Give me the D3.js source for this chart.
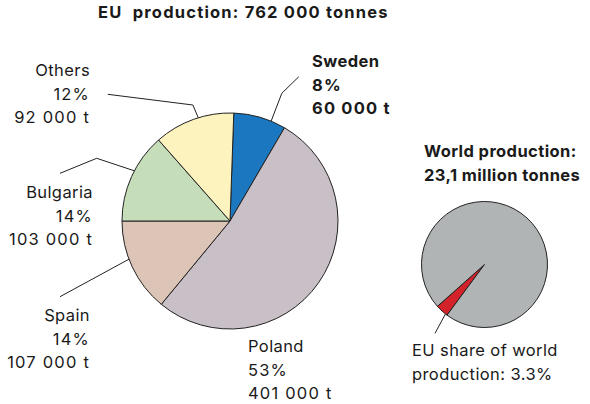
<!DOCTYPE html>
<html>
<head>
<meta charset="utf-8">
<script src="https://cdn.jsdelivr.net/npm/d3@7"></script>
<style>
  html, body { margin: 0; padding: 0; background: #fff; }
  svg text { font-family: Inter, "DejaVu Sans", sans-serif; fill: #1a1a1a; }
  .word { letter-spacing: 0.4px; }
  .num { letter-spacing: 1.2px; }
</style>
</head>
<body>
<svg id="chart" width="590" height="404"></svg>
<script>
// EU production by country (tonnes), clockwise from the top
const countries = ["Sweden", "Poland", "Spain", "Bulgaria", "Others"];
const tonnes = [60000, 401000, 107000, 103000, 92000];
const shareLabels = ["8%", "53%", "14%", "14%", "12%"];
const tonneLabels = ["60 000 t", "401 000 t", "107 000 t", "103 000 t", "92 000 t"];
const sliceColors = ["#1b77bf", "#c8bfc7", "#dcc4b6", "#c6ddb9", "#fdf3bf"];

// World production split (%)
const worldParts = ["EU", "Rest of world"];
const worldShare = [3.3, 96.7];
const worldColors = ["#d3222a", "#b1b4b5"];

const euTitle = "EU\u00a0 production: 762 000 tonnes";
const worldTitle = ["World production:", "23,1 million tonnes"];
const worldNote = ["EU share of world", "production: 3.3%"];

const svg = d3.select("#chart");
const deg = Math.PI / 180;
const ink = "#222";

// ---- EU pie ----
const eu = { cx: 230, cy: 221, r: 108 };
const euPie = d3.pie().sort(null).value(d => d)
  .startAngle(2 * deg).endAngle(362 * deg);
const euArcs = euPie(tonnes);
const euArc = d3.arc().innerRadius(0).outerRadius(eu.r);

const gEu = svg.append("g").attr("transform", `translate(${eu.cx},${eu.cy})`);
gEu.selectAll("path").data(euArcs).join("path")
  .attr("d", euArc)
  .attr("fill", (d, i) => sliceColors[i])
  .attr("stroke", ink)
  .attr("stroke-width", 1)
  .attr("stroke-linejoin", "round");

svg.append("text")
  .attr("class", "num")
  .attr("x", 98).attr("y", 18)
  .attr("font-size", 16.5).attr("font-weight", 700)
  .text(euTitle);

// label blocks; "at" is where along its slice the leader meets the rim
const labelLayout = [
  { anchor: "start", x: 312, y: 67, bold: true, at: 0.72,
    leader: [[298.8, 76.7], [281.8, 93.3]] },
  { anchor: "start", x: 248, y: 352, bold: false, at: null, leader: null },
  { anchor: "end", x: 90, y: 321, bold: false, at: 0.59,
    leader: [[60, 296.7]] },
  { anchor: "end", x: 93, y: 198, bold: false, at: 0.57,
    leader: [[60, 173.3], [96.7, 158.3]] },
  { anchor: "end", x: 90, y: 76, bold: false, at: 0.56,
    leader: [[107.8, 94.3], [192.9, 105]] }
];

// point on a pie's rim at an angle (clockwise from north)
function rim(p, angle) {
  return [p.cx + Math.sin(angle) * p.r, p.cy - Math.cos(angle) * p.r];
}

euArcs.forEach((a, i) => {
  const L = labelLayout[i];
  const t = svg.append("text")
    .attr("x", L.x).attr("y", L.y)
    .attr("text-anchor", L.anchor)
    .attr("font-size", 16.5)
    .attr("font-weight", L.bold ? 700 : 400);
  [countries[i], shareLabels[i], tonneLabels[i]].forEach((s, k) => {
    t.append("tspan")
      .attr("class", k === 0 ? "word" : "num")
      .attr("x", L.x).attr("dy", k === 0 ? 0 : 23.7).text(s);
  });
  if (L.leader) {
    const ang = a.startAngle + (a.endAngle - a.startAngle) * L.at;
    const pts = L.leader.concat([rim(eu, ang)]);
    svg.append("path")
      .attr("d", d3.line()(pts))
      .attr("fill", "none").attr("stroke", ink).attr("stroke-width", 1);
  }
});

// ---- World pie ----
const world = { cx: 484.5, cy: 264.5, r: 63 };
const worldPie = d3.pie().sort(null).value(d => d)
  .startAngle(216.5 * deg).endAngle(576.5 * deg);
const worldArcs = worldPie(worldShare);
const worldArc = d3.arc().innerRadius(0).outerRadius(world.r);

const gW = svg.append("g").attr("transform", `translate(${world.cx},${world.cy})`);
gW.selectAll("path").data(worldArcs).join("path")
  .attr("d", worldArc)
  .attr("fill", (d, i) => worldColors[i])
  .attr("stroke", ink)
  .attr("stroke-width", 1)
  .attr("stroke-linejoin", "round");

const wt = svg.append("text")
  .attr("class", "word")
  .attr("x", 424).attr("y", 157)
  .attr("font-size", 16.5).attr("font-weight", 700);
worldTitle.forEach((s, k) => {
  wt.append("tspan").attr("x", 424).attr("dy", k === 0 ? 0 : 23.5).text(s);
});

// leader from the EU slice down to its note
const euW = worldArcs[0];
const wRim = rim(world, euW.startAngle + (euW.endAngle - euW.startAngle) * 0.15);
svg.append("path")
  .attr("d", d3.line()([[435, 333.3], wRim]))
  .attr("fill", "none").attr("stroke", ink).attr("stroke-width", 1);

const wn = svg.append("text")
  .attr("class", "word")
  .attr("x", 412).attr("y", 356)
  .attr("font-size", 16.5).attr("font-weight", 400);
worldNote.forEach((s, k) => {
  wn.append("tspan").attr("x", 412).attr("dy", k === 0 ? 0 : 23.5).text(s);
});
</script>
</body>
</html>
